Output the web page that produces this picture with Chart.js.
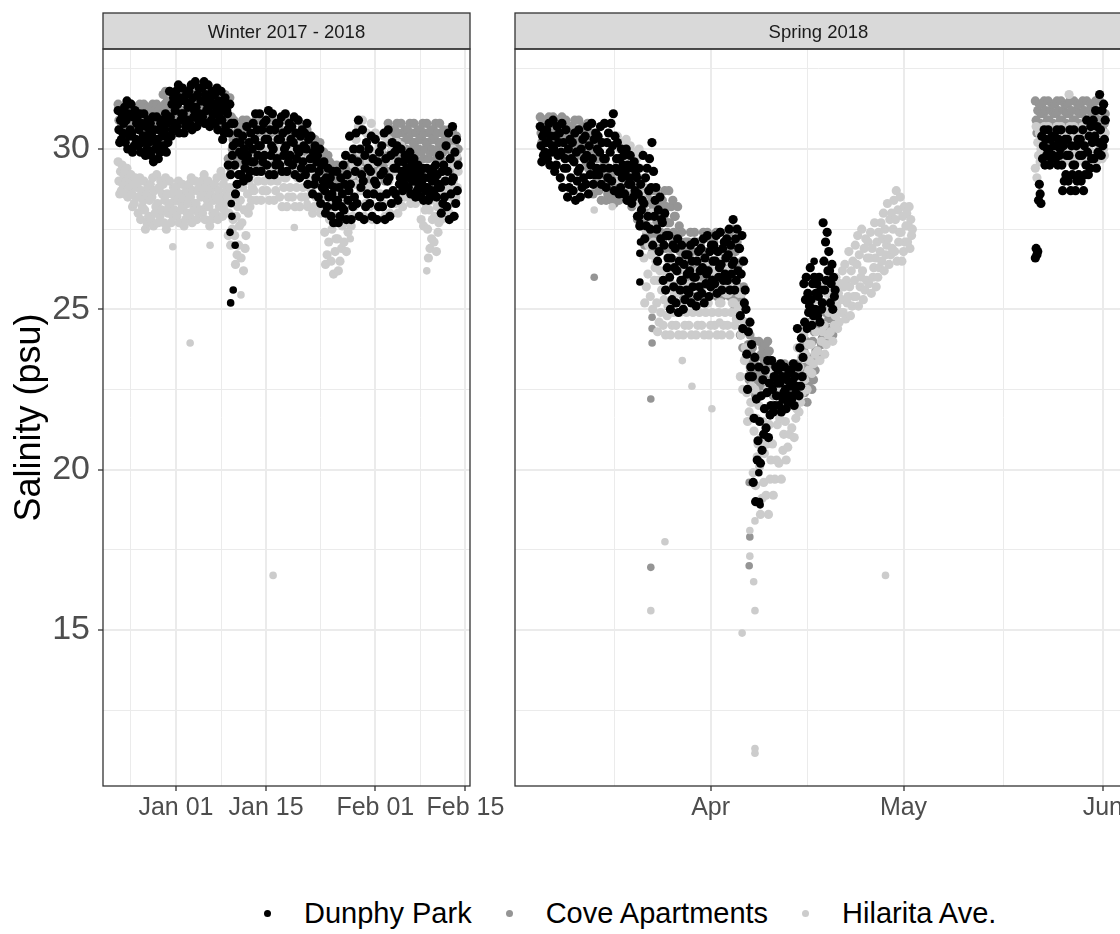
<!DOCTYPE html>
<html>
<head>
<meta charset="utf-8">
<title>Salinity</title>
<script src="https://cdn.jsdelivr.net/npm/chart.js@4.4.1/dist/chart.umd.min.js"></script>
<style>
  html, body { margin: 0; padding: 0; background: #fff; }
  #wrap { position: relative; width: 1120px; height: 934px; overflow: hidden; background: #fff; }
  #winter { position: absolute; left: 0; top: 0; }
  #spring { position: absolute; left: 490px; top: 0; }
  #legend { position: absolute; left: 264px; top: 896px; height: 34px; display: flex; align-items: center;
            font: 29px "Liberation Sans", Arial, sans-serif; color: #000; white-space: nowrap; }
  .key { display: flex; align-items: center; margin-right: 34px; }
  .dot { width: 7px; height: 7px; border-radius: 50%; margin-right: 33px; }
</style>
</head>
<body>
<div id="wrap">
  <canvas id="winter" width="520" height="840"></canvas>
  <canvas id="spring" width="670" height="840"></canvas>
  <div id="legend"></div>
</div>
<script>
// salinity logger readings, 8 per day (every 3 h), x = days since 2018-01-01
const READS_PER_DAY = 8;
const siteNames = ['Dunphy Park', 'Cove Apartments', 'Hilarita Ave.'];
const siteColors = ['#000000', '#959595', '#cccccc'];

const winterStart = -9;   // Dec 23 2017
const winterDunphy = [
  31.2,30.6,30.2,30.9,30.3,31.1,30.5,30.8, 31.3,30.2,30.9,31.5,30.0,31.1,30.4,30.6,
  31.4,30.5,29.9,31.0,30.1,31.2,30.3,30.8, 30.9,30.1,30.6,31.1,29.9,30.8,30.2,30.4,
  31.1,30.4,29.8,30.7,30.0,30.9,30.2,30.5, 30.8,29.8,30.4,31.0,29.6,30.6,30.0,30.2,
  31.0,30.3,29.7,30.6,29.9,30.8,30.1,30.4, 30.9,30.1,30.6,31.1,29.9,30.8,30.2,30.4,
  31.8,31.0,30.4,31.4,30.6,31.6,30.8,31.2, 31.8,30.7,31.4,32.0,30.5,31.6,30.9,31.1,
  31.9,31.1,30.5,31.5,30.7,31.7,30.9,31.3, 31.8,30.8,31.4,32.0,30.6,31.6,31.0,31.2,
  32.1,31.3,30.7,31.7,30.9,31.9,31.1,31.5, 31.9,31.0,31.5,32.1,30.8,31.7,31.2,31.4,
  32.0,31.3,30.7,31.6,30.9,31.8,31.1,31.4, 31.7,30.8,31.3,31.9,30.6,31.5,31.0,31.2,
  31.8,30.9,30.3,31.4,30.5,31.6,30.7,31.2, 31.1,29.5,30.5,31.4,29.2,30.8,29.8,30.1,
  30.8,29.5,28.6,30.2,28.9,30.5,29.2,29.9, 30.2,29.2,29.8,30.4,29.0,30.0,29.4,29.6,
  30.7,29.8,29.1,30.2,29.3,30.5,29.6,30.0, 30.8,29.6,30.3,31.1,29.3,30.6,29.8,30.1,
  31.1,30.1,29.3,30.6,29.6,30.8,29.8,30.3, 30.9,29.5,30.3,31.2,29.2,30.6,29.8,30.1,
  31.1,30.0,29.2,30.6,29.5,30.8,29.7,30.3, 30.8,29.5,30.3,31.0,29.3,30.5,29.8,30.0,
  31.1,30.1,29.3,30.6,29.6,30.8,29.8,30.3, 30.7,29.5,30.2,31.0,29.2,30.5,29.7,30.0,
  30.9,29.9,29.1,30.4,29.4,30.6,29.6,30.1, 30.5,29.2,30.0,30.8,28.9,30.3,29.4,29.7,
  30.4,29.4,28.6,29.9,28.9,30.1,29.1,29.6, 29.8,28.5,29.3,30.0,28.3,29.5,28.8,29.0,
  29.6,28.7,28.0,29.1,28.2,29.4,28.5,28.9, 29.1,27.9,28.6,29.3,27.7,28.8,28.2,28.4,
  29.3,28.4,27.7,28.8,27.9,29.1,28.2,28.6, 29.5,28.1,28.9,29.8,27.8,29.2,28.4,28.7,
  30.4,28.9,27.8,29.7,28.2,30.0,28.5,29.3, 30.5,28.3,29.6,30.9,27.9,30.0,28.8,29.2,
  30.6,29.0,27.8,29.8,28.2,30.2,28.6,29.4, 30.0,28.3,29.3,30.4,27.9,29.7,28.6,29.0,
  30.3,28.9,27.8,29.6,28.2,29.9,28.5,29.2, 30.1,28.2,29.3,30.5,27.8,29.7,28.6,29.0,
  30.6,29.1,27.9,29.8,28.3,30.2,28.7,29.4, 29.9,28.6,29.4,30.1,28.4,29.6,28.9,29.1,
  30.0,29.3,28.7,29.6,28.9,29.8,29.1,29.4, 29.7,28.8,29.3,29.9,28.6,29.5,29.0,29.2,
  29.7,29.0,28.5,29.4,28.7,29.5,28.8,29.2, 29.3,28.5,29.0,29.4,28.4,29.1,28.7,28.8,
  29.4,28.8,28.4,29.1,28.5,29.3,28.7,29.0, 29.4,28.6,29.1,29.5,28.5,29.2,28.8,28.9,
  29.8,28.8,28.0,29.3,28.3,29.5,28.5,29.0, 30.1,28.2,29.3,30.5,27.8,29.7,28.6,29.0,
  30.7,29.1,27.9,29.9,28.3,30.3,28.7,29.5
];
const winterCove = [
  31.4,30.9,30.6,31.2,30.7,31.3,30.8,31.1, 31.3,30.7,31.1,31.4,30.6,31.2,30.8,30.9,
  31.4,30.9,30.6,31.2,30.7,31.3,30.8,31.1, 31.3,30.7,31.1,31.4,30.6,31.2,30.8,30.9,
  31.4,30.9,30.6,31.2,30.7,31.3,30.8,31.1, 31.3,30.7,31.1,31.4,30.6,31.2,30.8,30.9,
  31.4,30.9,30.6,31.2,30.7,31.3,30.8,31.1, 31.7,30.9,31.4,31.8,30.8,31.5,31.1,31.2,
  31.8,31.2,30.8,31.5,30.9,31.7,31.1,31.4, 31.7,30.9,31.4,31.8,30.8,31.5,31.1,31.2,
  31.8,31.2,30.8,31.5,30.9,31.7,31.1,31.4, 31.7,30.9,31.4,31.8,30.8,31.5,31.1,31.2,
  31.8,31.2,30.8,31.5,30.9,31.7,31.1,31.4, 31.7,30.9,31.4,31.8,30.8,31.5,31.1,31.2,
  31.8,31.2,30.8,31.5,30.9,31.7,31.1,31.4, 31.7,30.9,31.4,31.8,30.8,31.5,31.1,31.2,
  31.8,31.2,30.8,31.5,30.9,31.7,31.1,31.4, 31.3,29.7,30.7,31.6,29.4,31.0,30.0,30.3,
  30.9,30.1,29.5,30.5,29.7,30.7,29.9,30.3, 30.7,29.7,30.3,30.9,29.5,30.5,29.9,30.1,
  30.9,30.1,29.5,30.5,29.7,30.7,29.9,30.3, 30.7,29.7,30.3,30.9,29.5,30.5,29.9,30.1,
  30.9,30.1,29.5,30.5,29.7,30.7,29.9,30.3, 30.7,29.8,30.3,30.9,29.6,30.5,30.0,30.2,
  30.9,30.2,29.6,30.5,29.8,30.7,30.0,30.3, 30.7,29.8,30.3,30.9,29.6,30.5,30.0,30.2,
  30.9,30.2,29.6,30.5,29.8,30.7,30.0,30.3, 30.7,29.8,30.3,30.9,29.6,30.5,30.0,30.2,
  30.9,30.2,29.6,30.5,29.8,30.7,30.0,30.3, 30.4,29.7,30.1,30.6,29.5,30.3,29.8,30.0,
  30.4,29.8,29.4,30.1,29.5,30.3,29.7,30.0, 30.1,29.4,29.8,30.2,29.3,29.9,29.6,29.7,
  29.9,29.5,29.2,29.7,29.3,29.8,29.4,29.6, 29.4,29.1,29.3,29.5,29.0,29.4,29.1,29.2,
  29.5,29.2,29.0,29.4,29.1,29.4,29.1,29.3, 29.4,29.1,29.3,29.5,29.0,29.4,29.1,29.2,
  29.8,29.3,29.0,29.6,29.1,29.7,29.2,29.5, 29.7,29.1,29.5,29.8,29.0,29.6,29.2,29.3,
  29.8,29.3,29.0,29.6,29.1,29.7,29.2,29.5, 29.7,29.1,29.5,29.8,29.0,29.6,29.2,29.3,
  29.8,29.3,29.0,29.6,29.1,29.7,29.2,29.5, 29.7,29.1,29.5,29.8,29.0,29.6,29.2,29.3,
  30.8,30.2,29.7,30.5,29.9,30.6,30.0,30.3, 30.6,29.9,30.3,30.8,29.7,30.5,30.0,30.2,
  30.8,30.2,29.7,30.5,29.9,30.6,30.0,30.3, 30.6,29.9,30.3,30.8,29.7,30.5,30.0,30.2,
  30.8,30.2,29.7,30.5,29.9,30.6,30.0,30.3, 30.6,29.9,30.3,30.8,29.7,30.5,30.0,30.2,
  30.8,30.2,29.7,30.5,29.9,30.6,30.0,30.3, 30.6,29.9,30.3,30.8,29.7,30.5,30.0,30.2,
  30.8,30.2,29.7,30.5,29.9,30.6,30.0,30.3, 30.4,29.5,30.0,30.6,29.3,30.2,29.7,29.9,
  30.6,29.9,29.3,30.2,29.5,30.4,29.7,30.0
];
const winterHilarita = [
  29.6,29.0,28.6,29.3,28.7,29.5,28.9,29.2, 29.3,28.6,29.0,29.4,28.5,29.1,28.8,28.9,
  29.2,28.6,28.2,28.9,28.3,29.1,28.5,28.8, 28.9,28.0,28.5,29.1,27.8,28.7,28.2,28.4,
  29.0,28.1,27.5,28.6,27.7,28.8,27.9,28.4, 28.9,27.8,28.5,29.1,27.6,28.7,28.0,28.2,
  29.2,28.3,27.7,28.8,27.9,29.0,28.1,28.6, 28.9,27.7,28.4,29.1,27.5,28.6,28.0,28.2,
  29.0,28.3,27.7,28.6,27.9,28.8,28.1,28.4, 28.8,27.9,28.4,29.0,27.7,28.6,28.1,28.3,
  28.9,28.2,27.6,28.5,27.8,28.7,28.0,28.3, 28.9,27.9,28.5,29.1,27.7,28.7,28.1,28.3,
  29.0,28.3,27.8,28.7,28.0,28.8,28.1,28.5, 29.0,28.0,28.6,29.2,27.8,28.8,28.2,28.4,
  29.0,28.2,27.6,28.6,27.8,28.8,28.0,28.4, 28.9,28.0,28.5,29.1,27.8,28.7,28.2,28.4,
  29.3,28.5,27.9,28.9,28.1,29.1,28.3,28.7, 28.5,27.3,28.0,28.8,27.0,28.3,27.5,27.8,
  28.5,27.3,26.4,27.9,26.7,28.2,27.0,27.6, 28.4,26.6,27.7,28.8,26.2,28.1,26.9,27.3,
  29.4,28.6,28.0,29.0,28.2,29.2,28.4,28.8, 30.3,28.7,29.7,30.6,28.4,30.0,29.0,29.3,
  30.6,29.3,28.4,30.0,28.7,30.3,29.0,29.7, 30.3,28.7,29.7,30.6,28.4,30.0,29.0,29.3,
  30.6,29.3,28.4,30.0,28.7,30.3,29.0,29.7, 30.0,28.5,29.4,30.3,28.2,29.7,28.8,29.1,
  30.3,29.1,28.2,29.7,28.5,30.0,28.8,29.4, 30.0,28.5,29.4,30.3,28.2,29.7,28.8,29.1,
  30.3,29.1,28.2,29.7,28.5,30.0,28.8,29.4, 30.0,28.5,29.4,30.3,28.2,29.7,28.8,29.1,
  29.6,28.7,28.0,29.1,28.2,29.4,28.5,28.9, 29.4,28.2,28.9,29.6,28.0,29.1,28.5,28.7,
  28.8,27.4,26.4,28.1,26.7,28.5,27.1,27.8, 28.2,26.5,27.5,28.6,26.1,27.9,26.8,27.2,
  28.6,27.2,26.2,27.9,26.5,28.3,26.9,27.6, 28.6,27.1,28.0,28.9,26.8,28.3,27.4,27.7,
  29.8,28.5,27.6,29.2,27.9,29.5,28.2,28.9, 30.3,28.3,29.5,30.7,27.9,29.9,28.7,29.1,
  30.9,29.2,27.9,30.0,28.3,30.5,28.8,29.6, 30.4,28.2,29.5,30.8,27.8,29.9,28.7,29.1,
  30.5,29.0,27.8,29.7,28.2,30.1,28.6,29.3, 30.0,28.3,29.3,30.4,27.9,29.7,28.6,29.0,
  30.3,29.0,28.0,29.6,28.3,30.0,28.7,29.3, 29.9,28.3,29.3,30.2,28.0,29.6,28.6,28.9,
  30.1,29.0,28.2,29.6,28.5,29.8,28.7,29.3, 29.7,28.5,29.2,29.9,28.3,29.4,28.8,29.0,
  29.6,28.9,28.3,29.2,28.5,29.4,28.7,29.0, 29.1,27.8,28.6,29.3,27.6,28.8,28.1,28.3,
  28.7,27.5,26.6,28.1,26.9,28.4,27.2,27.8, 28.5,27.1,27.9,28.8,26.8,28.2,27.4,27.7,
  29.0,28.3,27.8,28.7,28.0,28.8,28.1,28.5, 29.4,28.2,28.9,29.6,28.0,29.1,28.5,28.7,
  30.0,29.0,28.3,29.5,28.5,29.8,28.8,29.3
];
// odd single readings [day, psu]
const winterDunphyExtra = [[8.4, 27.4], [9.2, 27.0], [8.9, 25.6], [8.5, 25.2], [8.6, 28.3], [8.7, 27.9]];
const winterCoveExtra = [];
const winterHilaritaExtra = [[-0.5, 26.95], [5.3, 27.0], [2.2, 23.95], [10.1, 25.45], [15.1, 16.7],
  [18.4, 27.55], [20.4, 28.3], [27.1, 27.2], [39.0, 26.2]];

const springStart = 63.5;   // Mar 5 2018
const springDunphy = [
  30.7,30.1,29.6,30.4,29.8,30.5,29.9,30.2, 30.6,29.7,30.2,30.8,29.5,30.4,29.9,30.1,
  30.9,30.0,29.3,30.4,29.5,30.7,29.8,30.2, 30.5,29.1,29.9,30.8,28.8,30.2,29.4,29.7,
  30.6,29.4,28.5,30.0,28.8,30.3,29.1,29.7, 30.2,28.7,29.6,30.5,28.4,29.9,29.0,29.3,
  30.6,29.4,28.5,30.0,28.8,30.3,29.1,29.7, 30.4,28.9,29.8,30.7,28.6,30.1,29.2,29.5,
  30.8,29.7,28.9,30.3,29.2,30.5,29.4,30.0, 30.4,29.2,29.9,30.7,28.9,30.2,29.4,29.7,
  30.8,29.7,28.8,30.2,29.1,30.5,29.4,29.9, 30.8,29.0,30.1,31.1,28.7,30.4,29.4,29.7,
  30.2,29.3,28.6,29.7,28.8,30.0,29.1,29.5, 29.8,28.6,29.3,30.0,28.4,29.5,28.9,29.1,
  29.8,28.9,28.3,29.4,28.5,29.6,28.7,29.2, 29.1,27.9,28.6,29.4,27.6,28.9,28.1,28.4,
  29.8,28.3,27.2,29.1,27.6,29.4,27.9,28.7, 29.7,27.5,28.8,30.2,27.0,29.3,27.9,28.4,
  28.8,27.5,26.5,28.1,26.8,28.5,27.2,27.8, 27.7,25.9,27.0,28.0,25.6,27.3,26.3,26.6,
  27.3,26.0,25.0,26.6,25.3,27.0,25.7,26.3, 26.9,25.2,26.2,27.2,24.9,26.5,25.6,25.9,
  27.0,25.9,25.0,26.4,25.3,26.7,25.6,26.1, 26.7,25.5,26.2,27.0,25.2,26.5,25.7,26.0,
  27.1,26.0,25.1,26.5,25.4,26.8,25.7,26.2, 26.9,25.5,26.3,27.2,25.2,26.6,25.8,26.1,
  27.3,26.2,25.4,26.8,25.7,27.0,25.9,26.5, 27.0,25.8,26.5,27.3,25.5,26.8,26.0,26.3,
  27.4,26.4,25.6,26.9,25.9,27.1,26.1,26.6, 27.2,25.9,26.7,27.5,25.6,27.0,26.1,26.4,
  27.8,26.5,25.6,27.2,25.9,27.5,26.2,26.9, 26.9,24.8,26.1,27.3,24.4,26.5,25.2,25.6,
  25.0,23.6,22.5,24.3,22.9,24.6,23.2,23.9, 22.9,19.6,21.6,23.5,19.0,22.2,20.3,20.9,
  23.2,21.5,20.2,22.3,20.6,22.8,21.1,21.9, 23.1,21.3,22.4,23.4,21.0,22.7,21.7,22.0,
  23.4,22.5,21.8,22.9,22.0,23.2,22.3,22.7, 23.1,22.0,22.7,23.3,21.8,22.9,22.2,22.4,
  23.2,22.5,21.9,22.8,22.1,23.0,22.3,22.6, 23.1,22.2,22.7,23.3,22.0,22.9,22.4,22.6,
  24.4,23.2,22.3,23.8,22.6,24.1,22.9,23.5, 25.8,24.6,25.3,26.0,24.4,25.5,24.9,25.1,
  26.3,25.3,24.5,25.8,24.8,26.0,25.0,25.5, 25.8,24.8,25.4,26.0,24.6,25.6,25.0,25.2,
  27.7,26.5,25.6,27.1,25.9,27.4,26.2,26.8, 26.2,25.2,25.8,26.4,25.0,26.0,25.4,25.6
];
const springCove = [
  31.0,30.5,30.2,30.8,30.3,30.9,30.4,30.7, 30.9,30.3,30.7,31.0,30.2,30.8,30.4,30.5,
  31.0,30.5,30.2,30.8,30.3,30.9,30.4,30.7, 30.9,30.3,30.7,31.0,30.2,30.8,30.4,30.5,
  30.9,30.3,29.8,30.6,30.0,30.7,30.1,30.4, 30.7,30.0,30.4,30.9,29.8,30.6,30.1,30.3,
  30.9,30.3,29.8,30.6,30.0,30.7,30.1,30.4, 30.6,29.6,30.2,30.8,29.4,30.4,29.8,30.0,
  30.5,29.4,28.6,30.0,28.9,30.2,29.1,29.7, 29.9,28.7,29.4,30.2,28.4,29.7,28.9,29.2,
  29.6,28.9,28.4,29.3,28.6,29.4,28.7,29.1, 29.2,28.4,28.9,29.3,28.3,29.0,28.6,28.7,
  29.6,28.9,28.4,29.3,28.6,29.4,28.7,29.1, 29.3,28.6,29.0,29.5,28.4,29.2,28.7,28.9,
  29.4,28.7,28.2,29.1,28.4,29.2,28.5,28.9, 28.8,27.8,28.4,29.0,27.6,28.6,28.0,28.2,
  28.8,27.8,27.0,28.3,27.3,28.5,27.5,28.0, 28.4,27.1,27.9,28.7,26.8,28.2,27.3,27.6,
  28.7,27.7,26.9,28.2,27.2,28.4,27.4,27.9, 28.4,27.2,27.9,28.7,26.9,28.2,27.4,27.7,
  28.7,27.7,26.9,28.2,27.2,28.4,27.4,27.9, 27.9,26.5,27.3,28.2,26.2,27.6,26.8,27.1,
  27.4,26.3,25.4,26.8,25.7,27.1,26.0,26.5, 27.1,25.7,26.5,27.4,25.4,26.8,26.0,26.3,
  27.4,26.3,25.4,26.8,25.7,27.1,26.0,26.5, 27.1,25.7,26.5,27.4,25.4,26.8,26.0,26.3,
  27.4,26.3,25.4,26.8,25.7,27.1,26.0,26.5, 27.1,25.7,26.5,27.4,25.4,26.8,26.0,26.3,
  27.4,26.3,25.4,26.8,25.7,27.1,26.0,26.5, 27.1,25.7,26.5,27.4,25.4,26.8,26.0,26.3,
  27.5,26.1,25.0,26.8,25.4,27.1,25.7,26.4, 26.1,24.2,25.3,26.5,23.8,25.7,24.6,25.0,
  24.5,23.4,22.5,23.9,22.8,24.2,23.1,23.6, 23.8,22.5,23.3,24.0,22.3,23.5,22.8,23.0,
  24.0,23.2,22.6,23.6,22.8,23.8,23.0,23.4, 23.9,23.1,23.6,24.0,23.0,23.7,23.3,23.4,
  23.3,22.7,22.3,23.0,22.4,23.2,22.6,22.9, 23.2,22.4,22.9,23.3,22.3,23.0,22.6,22.7,
  23.3,22.7,22.3,23.0,22.4,23.2,22.6,22.9, 23.2,22.4,22.9,23.3,22.3,23.0,22.6,22.7,
  23.3,22.7,22.3,23.0,22.4,23.2,22.6,22.9, 23.7,22.4,23.2,24.0,22.1,23.5,22.6,22.9,
  24.6,23.4,22.5,24.0,22.8,24.3,23.1,23.7, 24.8,23.7,24.4,25.0,23.5,24.6,23.9,24.1,
  25.2,24.5,24.0,24.9,24.2,25.0,24.3,24.7, 25.1,24.4,24.8,25.3,24.2,25.0,24.5,24.7
];
const springHilaritaStart = 75.5;
const springHilarita = [
  30.4,29.6,29.0,30.0,29.2,30.2,29.4,29.8, 30.1,29.1,29.7,30.3,28.9,29.9,29.3,29.5,
  30.1,29.4,28.8,29.7,29.0,29.9,29.2,29.5, 29.7,28.3,29.1,30.0,28.0,29.4,28.6,28.9,
  28.4,26.6,25.2,27.5,25.7,27.9,26.1,27.0, 27.6,25.4,26.7,28.0,25.0,27.1,25.9,26.3,
  26.5,25.2,24.3,25.9,24.6,26.2,24.9,25.6, 25.9,24.5,25.3,26.2,24.2,25.6,24.8,25.1,
  26.5,25.2,24.2,25.8,24.5,26.2,24.9,25.5, 26.2,24.5,25.5,26.5,24.2,25.8,24.9,25.2,
  26.5,25.2,24.2,25.8,24.5,26.2,24.9,25.5, 26.2,24.5,25.5,26.5,24.2,25.8,24.9,25.2,
  26.5,25.2,24.2,25.8,24.5,26.2,24.9,25.5, 26.2,24.5,25.5,26.5,24.2,25.8,24.9,25.2,
  26.5,25.2,24.2,25.8,24.5,26.2,24.9,25.5, 26.2,24.5,25.5,26.5,24.2,25.8,24.9,25.2,
  26.5,25.2,24.2,25.8,24.5,26.2,24.9,25.5, 26.2,24.5,25.5,26.5,24.2,25.8,24.9,25.2,
  26.2,25.2,24.5,25.7,24.7,26.0,25.0,25.5, 25.1,22.9,24.2,25.5,22.5,24.6,23.4,23.8,
  23.5,22.4,21.5,22.9,21.8,23.2,22.1,22.6, 22.1,19.9,21.2,22.5,19.5,21.6,20.4,20.8,
  22.0,20.1,18.6,21.0,19.1,21.5,19.6,20.5, 21.9,19.2,20.8,22.5,18.6,21.4,19.7,20.3,
  23.0,20.8,19.2,21.9,19.7,22.5,20.3,21.4, 22.5,20.2,21.6,23.0,19.7,22.1,20.6,21.1,
  23.2,21.5,20.3,22.4,20.7,22.8,21.1,22.0, 22.9,21.3,22.3,23.2,21.0,22.6,21.6,21.9,
  23.8,22.7,21.8,23.2,22.1,23.5,22.4,22.9, 24.2,22.8,23.6,24.5,22.5,23.9,23.1,23.4,
  25.2,23.9,23.0,24.6,23.3,24.9,23.6,24.3, 25.3,23.7,24.7,25.6,23.4,25.0,24.0,24.3,
  25.8,24.5,23.6,25.2,23.9,25.5,24.2,24.9, 25.6,24.3,25.1,25.9,24.0,25.4,24.5,24.8,
  26.0,25.1,24.4,25.5,24.6,25.8,24.9,25.3, 26.2,24.9,25.7,26.4,24.7,25.9,25.2,25.4,
  26.8,25.7,24.8,26.2,25.1,26.5,25.4,25.9, 27.0,25.4,26.4,27.3,25.1,26.7,25.7,26.0,
  27.5,26.2,25.3,26.9,25.6,27.2,25.9,26.6, 27.1,25.8,26.6,27.4,25.5,26.9,26.0,26.3,
  27.7,26.6,25.7,27.1,26.0,27.4,26.3,26.8, 27.7,26.5,27.2,28.0,26.2,27.5,26.7,27.0,
  28.3,27.2,26.4,27.8,26.7,28.0,26.9,27.5, 28.4,26.8,27.8,28.7,26.5,28.1,27.1,27.4,
  28.5,27.4,26.5,27.9,26.8,28.2,27.1,27.6, 28.0,27.1,27.6,28.2,26.9,27.8,27.3,27.5
];
const springDunphyExtra = [[79.0, 27.9], [79.0, 27.7], [79.1, 27.1], [79.0, 26.75], [79.0, 25.85],
  [97.6, 19.0], [97.7, 18.9], [97.5, 19.9], [106.1, 26.5]];
const springCoveExtra = [[71.9, 26.0], [80.7, 22.2], [80.9, 24.75], [80.9, 24.4], [80.9, 23.95],
  [80.7, 16.95], [96.0, 19.6], [96.1, 17.9], [96.0, 17.0]];
const springHilaritaExtra = [[71.9, 28.1], [74.7, 28.2], [80.7, 15.6], [82.9, 17.75], [85.6, 23.4],
  [87.1, 22.6], [90.2, 21.9], [91.4, 24.6], [94.9, 14.9], [96.1, 18.1], [96.1, 17.3], [96.7, 16.5],
  [96.9, 18.4], [96.9, 15.6], [96.9, 11.3], [96.9, 11.15], [117.2, 16.7]];

const juneStart = 140.5;   // May 21 2018, loggers redeployed
const juneDunphy = [
  26.6,26.9,26.7,26.8,28.4,28.9,28.6,28.3, 30.4,29.7,30.1,30.6,29.5,30.3,29.8,30.0,
  30.6,30.0,29.5,30.3,29.7,30.4,29.8,30.1, 30.4,29.7,30.1,30.6,29.5,30.3,29.8,30.0,
  30.6,29.5,28.7,30.1,29.0,30.3,29.2,29.8, 30.3,29.0,29.8,30.6,28.7,30.1,29.2,29.5,
  30.6,29.5,28.7,30.1,29.0,30.3,29.2,29.8, 30.3,29.0,29.8,30.6,28.7,30.1,29.2,29.5,
  30.9,29.9,29.2,30.4,29.4,30.7,29.7,30.2, 30.9,29.7,30.4,31.2,29.4,30.7,29.9,30.2,
  31.7,30.6,29.8,31.2,30.1,31.4,30.3,30.9
];
const juneCove = [
  31.5,30.9,30.5,31.2,30.6,31.4,30.8,31.1, 31.4,30.6,31.1,31.5,30.5,31.2,30.8,30.9,
  31.5,30.9,30.5,31.2,30.6,31.4,30.8,31.1, 31.4,30.6,31.1,31.5,30.5,31.2,30.8,30.9,
  31.5,30.9,30.5,31.2,30.6,31.4,30.8,31.1, 31.4,30.6,31.1,31.5,30.5,31.2,30.8,30.9,
  31.5,30.9,30.5,31.2,30.6,31.4,30.8,31.1, 31.4,30.6,31.1,31.5,30.5,31.2,30.8,30.9,
  31.5,30.9,30.5,31.2,30.6,31.4,30.8,31.1, 31.4,30.6,31.1,31.5,30.5,31.2,30.8,30.9,
  31.5,30.9,30.5,31.2,30.6,31.4,30.8,31.1
];
const juneHilarita = [
  29.4,30.7,29.1,30.2,29.8,30.5,29.6,30.0, 30.5,29.8,30.2,30.7,29.6,30.4,29.9,30.1,
  30.7,30.1,29.6,30.4,29.8,30.5,29.9,30.2, 30.5,29.8,30.2,30.7,29.6,30.4,29.9,30.1,
  30.7,30.1,29.6,30.4,29.8,30.5,29.9,30.2, 30.5,29.8,31.7,30.7,29.6,30.4,29.9,30.1,
  30.7,30.1,29.6,30.4,29.8,30.5,29.9,30.2, 30.5,29.8,30.2,30.7,29.6,30.4,29.9,30.1,
  30.7,30.1,29.6,30.4,29.8,30.5,29.9,30.2, 30.5,29.8,30.2,30.7,29.6,30.4,29.9,30.1,
  30.6,29.9,30.2,29.7,30.4,30.0,29.8,30.5
];

// axis breaks
const yMajor = [15, 20, 25, 30];
const yMinor = [12.5, 17.5, 22.5, 27.5, 32.5];
const winterMajor = [0, 14, 31, 45];
const winterLabels = ['Jan 01', 'Jan 15', 'Feb 01', 'Feb 15'];
const winterMinor = [-7, 7, 22.5, 38];
const springMajor = [90, 120, 151];
const springLabels = ['Apr', 'May', 'Jun'];
const springMinor = [75, 105, 135.5];

const FONT = '"Liberation Sans", Arial, sans-serif';
const RUN_RADIUS = 4.6;     // continuous logger runs, 3-hourly so drawn a bit fuller
const SINGLE_RADIUS = 3.8;  // stray readings

function readings(start, values) {
  return values.map((v, i) => ({ x: start + i / READS_PER_DAY, y: v }));
}
function singles(pairs) {
  return pairs.map(p => ({ x: p[0], y: p[1], single: true }));
}

function makeSet(site, points) {
  return {
    label: siteNames[site],
    data: points,
    backgroundColor: siteColors[site],
    borderWidth: 0,
    pointRadius: ctx => (ctx.raw && ctx.raw.single) ? SINGLE_RADIUS : RUN_RADIUS,
    pointHoverRadius: ctx => (ctx.raw && ctx.raw.single) ? SINGLE_RADIUS : RUN_RADIUS,
    order: site === 0 ? 0 : (site === 2 ? 1 : 2),  // black on top, mid grey underneath
    clip: 0
  };
}

function breaks(majors, minors) {
  return majors.concat(minors).sort((a, b) => a - b).map(v => ({ value: v }));
}

function gridOpts(majors, showTicks) {
  return {
    color: '#ebebeb',
    lineWidth: ctx => (ctx.tick && majors.includes(ctx.tick.value)) ? 2 : 1,
    drawTicks: showTicks,
    tickLength: showTicks ? 5 : 0,
    tickWidth: 1.3,
    tickColor: ctx => (ctx.tick && majors.includes(ctx.tick.value)) ? '#333333' : 'rgba(0,0,0,0)'
  };
}

function xAxis(min, max, majors, labels, minors) {
  return {
    type: 'linear', min, max,
    afterBuildTicks: axis => { axis.ticks = breaks(majors, minors); },
    afterFit: axis => { axis.height = 54; },
    ticks: {
      autoSkip: false, maxRotation: 0, minRotation: 0, padding: 2,
      color: '#4d4d4d', font: { family: FONT, size: 25 },
      callback: v => { const i = majors.indexOf(v); return i < 0 ? '' : labels[i]; }
    },
    grid: gridOpts(majors, true),
    border: { display: false }
  };
}

function yAxis(withLabels) {
  return {
    type: 'linear', min: 10.13, max: 33.12,
    afterBuildTicks: axis => { axis.ticks = breaks(yMajor, yMinor); },
    afterFit: axis => { axis.width = withLabels ? 103 : 0; },
    title: {
      display: withLabels, text: 'Salinity (psu)', color: '#000',
      font: { family: FONT, size: 36 }, padding: { top: 8, bottom: 0 }
    },
    ticks: {
      display: withLabels, padding: 8, color: '#4d4d4d', font: { family: FONT, size: 34 },
      callback: v => yMajor.includes(v) ? String(v) : ''
    },
    grid: gridOpts(yMajor, withLabels),
    border: { display: false }
  };
}

// facet strip on top + panel border
const panelFrame = {
  id: 'panelFrame',
  afterDraw(chart, args, opts) {
    const { ctx, chartArea: a } = chart;
    const w = a.right - a.left;
    ctx.save();
    ctx.fillStyle = '#d9d9d9';
    ctx.fillRect(a.left, 13, w, a.top - 13);
    ctx.strokeStyle = '#333333';
    ctx.lineWidth = 1.3;
    ctx.strokeRect(a.left, 13, w, a.top - 13);
    ctx.strokeRect(a.left, a.top, w, a.bottom - a.top);
    ctx.fillStyle = '#1a1a1a';
    ctx.font = '18.5px ' + FONT;
    ctx.textAlign = 'center';
    ctx.textBaseline = 'middle';
    ctx.fillText(opts.title, a.left + w / 2, 32.5);
    ctx.restore();
  }
};

function panel(canvasId, title, datasets, x, y, padding) {
  return new Chart(document.getElementById(canvasId), {
    type: 'scatter',
    data: { datasets },
    options: {
      responsive: false, animation: false, events: [], devicePixelRatio: 1,
      layout: { padding },
      plugins: { legend: { display: false }, tooltip: { enabled: false }, panelFrame: { title } },
      scales: { x, y }
    },
    plugins: [panelFrame]
  });
}

panel('winter', 'Winter 2017 - 2018', [
  makeSet(0, readings(winterStart, winterDunphy).concat(singles(winterDunphyExtra))),
  makeSet(1, readings(winterStart, winterCove).concat(singles(winterCoveExtra))),
  makeSet(2, readings(winterStart, winterHilarita).concat(singles(winterHilaritaExtra)))
], xAxis(-11.35, 45.72, winterMajor, winterLabels, winterMinor), yAxis(true),
  { top: 49, right: 50, bottom: 0, left: 0 });

panel('spring', 'Spring 2018', [
  makeSet(0, readings(springStart, springDunphy).concat(readings(juneStart, juneDunphy), singles(springDunphyExtra))),
  makeSet(1, readings(springStart, springCove).concat(readings(juneStart, juneCove), singles(springCoveExtra))),
  makeSet(2, readings(springHilaritaStart, springHilarita).concat(readings(juneStart, juneHilarita), singles(springHilaritaExtra)))
], xAxis(59.58, 153.98, springMajor, springLabels, springMinor), yAxis(false),
  { top: 49, right: 38, bottom: 0, left: 25 });

// legend row
const legend = document.getElementById('legend');
siteNames.forEach((name, i) => {
  const key = document.createElement('div');
  key.className = 'key';
  const dot = document.createElement('span');
  dot.className = 'dot';
  dot.style.background = siteColors[i];
  const txt = document.createElement('span');
  txt.textContent = name;
  key.appendChild(dot);
  key.appendChild(txt);
  legend.appendChild(key);
});
</script>
</body>
</html>
